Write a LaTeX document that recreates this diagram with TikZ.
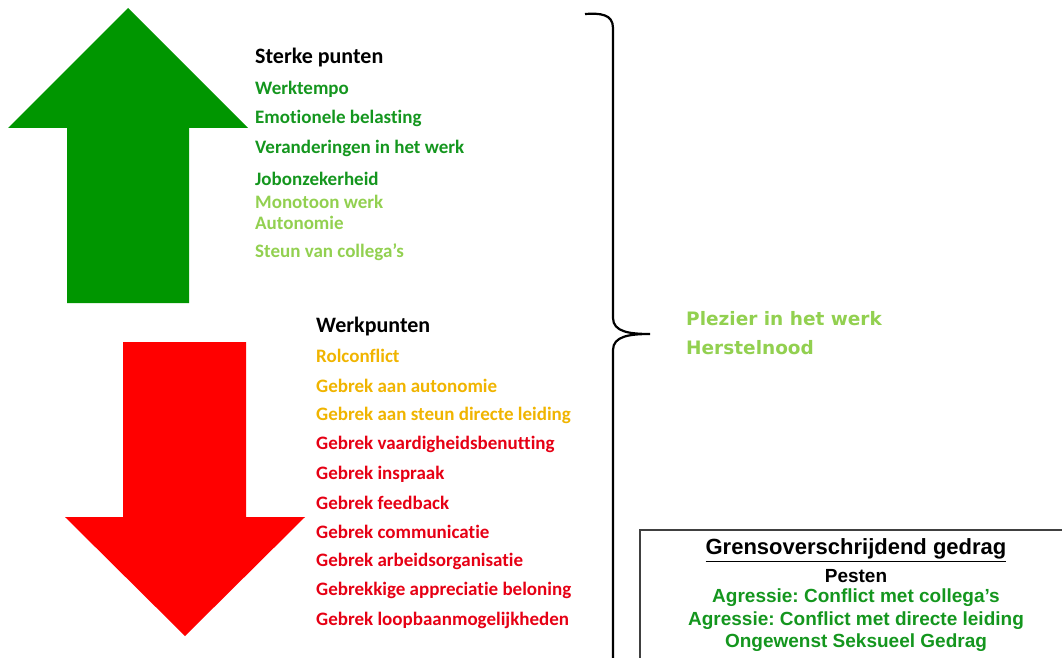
\documentclass[tikz,border=0pt]{standalone}
\usepackage{fontspec}
\setmainfont{Carlito}[Ligatures=NoCommon]
\newfontfamily\arialf{Liberation Sans}
\newfontfamily\verdf{DejaVu Sans}
\definecolor{dgreen}{RGB}{20,150,30}
\definecolor{lgreen}{RGB}{146,208,80}
\definecolor{arrgreen}{RGB}{0,150,0}
\definecolor{ored}{RGB}{240,180,0}
\definecolor{tred}{RGB}{230,0,20}
\definecolor{boxgreen}{RGB}{20,150,30}
\begin{document}
\frenchspacing
\begin{tikzpicture}[x=1pt,y=-1pt,
  lst/.style={anchor=west,inner sep=0pt,font=\fontsize{19}{22}\selectfont\bfseries},
  hdr/.style={lst,text=black,font=\fontsize{22}{24}\selectfont\bfseries},
  bx/.style={anchor=center,inner sep=0pt,font=\arialf\fontsize{19}{22}\selectfont\bfseries}]
\useasboundingbox (0,0) rectangle (1062,658);
\clip (0,0) rectangle (1062,658);
% arrows
\fill[arrgreen] (128,8) -- (248,128) -- (189,128) -- (189,303) -- (67,303) -- (67,128) -- (8,128) -- cycle;
\fill[red] (123,342) -- (246,342) -- (246,517) -- (305,517) -- (185,636) -- (65,517) -- (123,517) -- cycle;
% upper list
\node[hdr] (sp) at (255,58) {Sterke punten};
\node[lst,text=dgreen] (s1) at (255,89) {Werktempo};
\node[lst,text=dgreen] (s2) at (255,118) {Emotionele belasting};
\node[lst,text=dgreen] (s3) at (255,148) {Veranderingen in het werk};
\node[lst,text=dgreen] (s4) at (255,179) {Jobonzekerheid};
\node[lst,text=lgreen] (s5) at (255,202) {Monotoon werk};
\node[lst,text=lgreen] (s6) at (255,223) {Autonomie};
\node[lst,text=lgreen] (s7) at (255,252) {Steun van collega’s};
% lower list
\node[hdr] (wp) at (316,327) {Werkpunten};
\node[lst,text=ored] (w1) at (316,356) {Rolconflict};
\node[lst,text=ored] (w2) at (316,386) {Gebrek aan autonomie};
\node[lst,text=ored] (w3) at (316,415) {Gebrek aan steun directe leiding};
\node[lst,text=tred] (w4) at (316,444) {Gebrek vaardigheidsbenutting};
\node[lst,text=tred] (w5) at (316,474) {Gebrek inspraak};
\node[lst,text=tred] (w6) at (316,503) {Gebrek feedback};
\node[lst,text=tred] (w7) at (316,532) {Gebrek communicatie};
\node[lst,text=tred] (w8) at (316,561) {Gebrek arbeidsorganisatie};
\node[lst,text=tred] (w9) at (316,590) {Gebrekkige appreciatie beloning};
\node[lst,text=tred] (w10) at (316,620) {Gebrek loopbaanmogelijkheden};
% brace
\draw[line width=2.2pt,black] (585,14) .. controls (600,13) and (613,14) .. (613,28)
  -- (613,318) .. controls (613,332) and (630,334) .. (650,334)
  .. controls (630,334) and (613,336) .. (613,350) -- (613,670);
% result text
\node[anchor=west,inner sep=0pt,text=lgreen,font=\verdf\fontsize{18.5}{22}\selectfont\bfseries] (pl) at (686,319) {Plezier in het werk};
\node[anchor=west,inner sep=0pt,text=lgreen,font=\verdf\fontsize{18.5}{22}\selectfont\bfseries] (hn) at (686,348) {Herstelnood};
% box
\draw[line width=1.2pt,black!75] (640,530) rectangle (1075,680);
\node[bx,font=\arialf\fontsize{22}{24}\selectfont\bfseries] (g0) at (856,550) {\underline{Grensoverschrijdend gedrag}};
\node[bx,text=black] (g1) at (856,576) {Pesten};
\node[bx,text=boxgreen] (g2) at (856,598) {Agressie: Conflict met collega’s};
\node[bx,text=boxgreen] (g3) at (856,621) {Agressie: Conflict met directe leiding};
\node[bx,text=boxgreen] (g4) at (856,643) {Ongewenst Seksueel Gedrag};
\end{tikzpicture}
\end{document}
